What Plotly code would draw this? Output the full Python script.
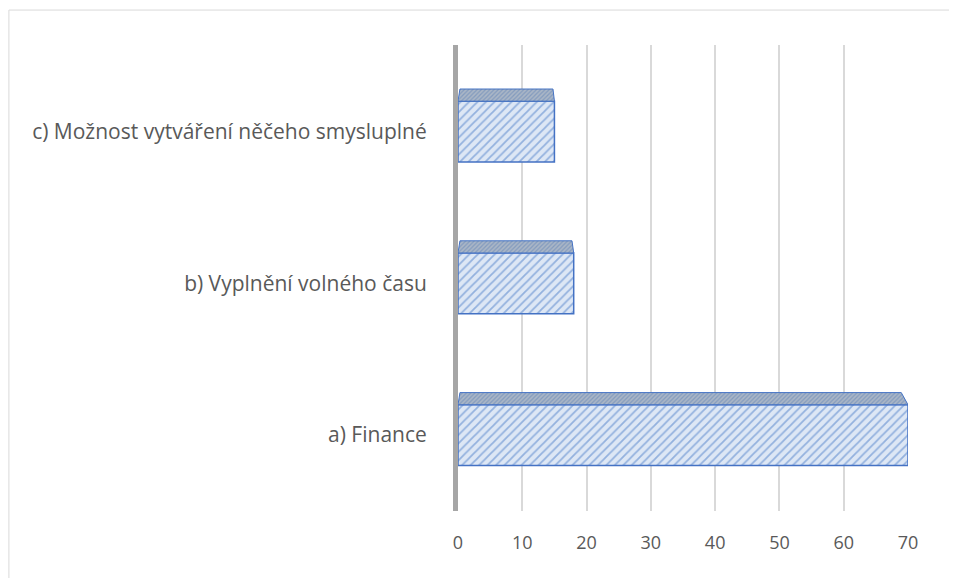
import plotly.graph_objects as go

# Data
categories = ["a) Finance", "b) Vyplnění volného času", "c) Možnost vytváření něčeho smysluplné"]
values = [70, 18, 15]
x_ticks = [0, 10, 20, 30, 40, 50, 60, 70]

bar_w = 0.4     # front face height in category units
top_depth = 0.08  # pseudo 3D top face

fig = go.Figure()

# front faces (hatched)
fig.add_trace(go.Bar(
    x=values, y=list(range(len(categories))), orientation="h", width=bar_w,
    marker=dict(color="#dae3f3", line=dict(color="#4472c4", width=1.5),
                pattern=dict(shape="/", fgcolor="#4a7cc7", bgcolor="#dde7f5",
                             size=6, solidity=0.3)),
    showlegend=False, hoverinfo="x+y",
))

# top faces of the 3D bars, built from the values
for i, v in enumerate(values):
    y0 = i + bar_w / 2
    y1 = y0 + top_depth
    fig.add_trace(go.Scatter(
        x=[0, v, v * 0.985, 0.3, 0], y=[y0, y0, y1, y1, y0],
        mode="lines", fill="toself",
        fillcolor="#a9b8cc",
        fillpattern=dict(shape="/", fgcolor="#5b7fb5", bgcolor="#aab6c6", size=3, solidity=0.4),
        line=dict(color="#4472c4", width=1),
        showlegend=False, hoverinfo="skip",
    ))

fig.update_layout(
    width=957, height=578,
    margin=dict(l=450, r=57, t=37, b=75),
    paper_bgcolor="white",
    plot_bgcolor="white",
    font=dict(family="Open Sans, sans-serif", size=17, color="#595959"),
    xaxis=dict(range=[0, 70], tickvals=x_ticks, showgrid=True, gridcolor="#d9d9d9", gridwidth=1.5,
               zeroline=False, showline=False, ticks="", ticklabelstandoff=19,
               tickfont=dict(size=18, color="#595959")),
    yaxis=dict(range=[-0.5, 2.57], tickvals=list(range(len(categories))), ticktext=categories,
               showgrid=False, zeroline=False, showline=True, linecolor="#a6a6a6", linewidth=5,
               ticks="", ticklabelstandoff=22, tickfont=dict(size=21, color="#595959")),
    shapes=[
        # chart area border (cropped on right and bottom)
        dict(type="rect", xref="paper", yref="paper", x0=-0.998, x1=1.2, y0=-0.2, y1=1.075,
             line=dict(color="#d9d9d9", width=1), layer="below"),
    ],
)

fig.write_html("out.html")
